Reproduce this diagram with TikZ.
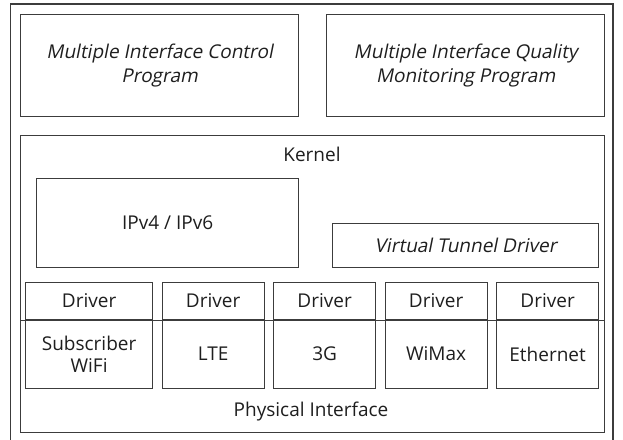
\documentclass[tikz,border=0pt]{standalone}
\usepackage{fontspec}
\setmainfont{Open Sans}
\newfontfamily\slantfont[FakeSlant=0.2]{Open Sans}
\usepackage{xcolor}
\usetikzlibrary{positioning}
\definecolor{lineGray}{HTML}{3C3C3C}
\definecolor{bodyText}{HTML}{1E1E1E}

\begin{document}
\begin{tikzpicture}[x=1pt, y=-1pt,
      every node/.style={font=\fontsize{19}{22.5}\selectfont, text=bodyText},
      box/.style={rectangle, draw=lineGray, line width=1.2pt, inner sep=0pt,
                  align=center, anchor=north west},
      progbox/.style={box, minimum width=278pt, minimum height=102pt,
                      font=\fontsize{19}{23.5}\selectfont\slantfont},
      drvbox/.style={box, minimum width=102pt, minimum height=37pt},
      ifbox/.style={box, minimum width=102pt, minimum height=69pt},
      rule/.style={draw=lineGray, line width=1.2pt},
      sectlabel/.style={font=\fontsize{19}{22.5}\selectfont},
    ]

      \clip (0,0) rectangle (623,439);
      % outer frame, runs past the lower edge
      \draw[rule] (10.5,4) rectangle (613,460);

      % user space programs
      \node[progbox] (ctrl) at (20,14) {Multiple Interface Control\\Program};
      \node[progbox] (qual) at (326,14) {Multiple Interface Quality\\Monitoring Program};

      % kernel
      \node[box, minimum width=584pt, minimum height=297pt] (kernel) at (20,135) {};
      \node[sectlabel] (kernlbl) at (312,154) {Kernel};
      \node[box, minimum width=262pt, minimum height=89pt] (ip) at (36,178) {IPv4 / IPv6};
      \node[box, minimum width=266pt, minimum height=44pt, font=\fontsize{19}{22.5}\selectfont\slantfont] (vtd) at (332,223) {Virtual Tunnel Driver};

      % drivers
      \node[drvbox, minimum width=127pt] (drv1) at (25,282) {Driver};
      \node[drvbox, right=8.3pt of drv1] (drv2) {Driver};
      \node[drvbox, right=8.3pt of drv2] (drv3) {Driver};
      \node[drvbox, right=8.3pt of drv3] (drv4) {Driver};
      \node[drvbox, right=8.3pt of drv4] (drv5) {Driver};

      % physical interfaces
      \node[ifbox, minimum width=127pt, below=-1.2pt of drv1] (if1) {Subscriber\\WiFi};
      \node[ifbox, below=-1.2pt of drv2] (if2) {LTE};
      \node[ifbox, below=-1.2pt of drv3] (if3) {3G};
      \node[ifbox, below=-1.2pt of drv4] (if4) {WiMax};
      \node[ifbox, below=-1.2pt of drv5] (if5) {Ethernet};
      \node[sectlabel] (phylbl) at (311,412) {Physical Interface};

      \draw[rule] (kernel.west |- drv1.south) -- (kernel.east |- drv1.south);

    \end{tikzpicture}
\end{document}
